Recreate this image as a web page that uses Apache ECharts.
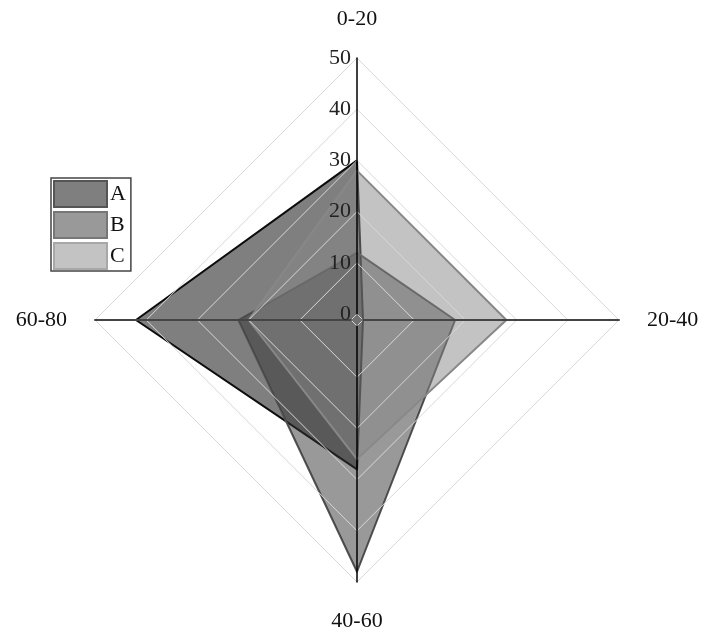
<!DOCTYPE html>
<html>
<head>
<meta charset="utf-8">
<style>
  html, body { margin: 0; padding: 0; background: #fff; }
  #chart { width: 702px; height: 637px; }
</style>
<script src="https://cdn.jsdelivr.net/npm/echarts@6/dist/echarts.min.js"></script>
</head>
<body>
<div id="chart"></div>
<script>
// Age bands, listed clockwise from the top spoke
const indicators = ['0-20', '20-40', '40-60', '60-80'];
const axisMax = 50;

// Series values, one per age band (same order as indicators)
const seriesNames = ['A', 'B', 'C'];
const valuesA = [30, 0, 28, 42];
const valuesB = [12, 18, 48, 22];
const valuesC = [28, 28, 26, 20];

const fillColors = ['rgba(0,0,0,0.5)', 'rgba(51,51,51,0.5)', 'rgba(136,136,136,0.5)'];
const lineColors = ['#111', '#555', '#888'];
const swatchFill = ['#7f7f7f', '#999999', '#c3c3c3'];
const swatchBorder = ['#555', '#777', '#a8a8a8'];

const serif = '"Liberation Serif", "DejaVu Serif", serif';
const chart = echarts.init(document.getElementById('chart'));

// ECharts lays radar spokes out counter-clockwise; walk the bands in
// reverse after the first so they read clockwise on screen.
const spokeOrder = [0].concat(indicators.slice(1).map((_, i) => indicators.length - 1 - i));
const allValues = [valuesA, valuesB, valuesC];

chart.setOption({
  animation: false,
  backgroundColor: '#fff',
  legend: {
    orient: 'vertical',
    left: 51,
    top: 178,
    icon: 'rect',
    itemWidth: 53,
    itemHeight: 26,
    itemGap: 3,
    padding: [2, 5, 1, 2],
    borderColor: '#444',
    borderWidth: 1.5,
    textStyle: { fontFamily: serif, fontSize: 22, color: '#111', padding: [0, 0, 0, -2], lineHeight: 26 },
    data: seriesNames.map((n, i) => ({
      name: n,
      itemStyle: { color: swatchFill[i], borderColor: swatchBorder[i], borderWidth: 2, opacity: 1 }
    }))
  },
  radar: {
    z: 5,
    center: [357, 320],
    radius: [6, 262],
    startAngle: 90,
    shape: 'polygon',
    splitNumber: 5,
    indicator: spokeOrder.map((k, i) => ({
      name: indicators[k],
      min: 0,
      max: axisMax,
      axisLabel: i === 0 ? {
        show: true, fontFamily: serif, fontSize: 22, color: '#222', margin: 6
      } : { show: false },
      axisLine: { lineStyle: { color: (i % 2 === 0) ? '#000' : '#444', width: i % 2 === 0 ? 1.5 : 2 } }
    })),
    axisName: { fontFamily: serif, fontSize: 22, color: '#111' },
    nameGap: 28,
    axisLine: { show: true },
    axisTick: { show: false },
    splitLine: { lineStyle: { color: '#d8d8d8', width: 1 } },
    splitArea: { show: false }
  },
  series: [{
    type: 'radar',
    z: 2,
    symbol: 'none',
    data: seriesNames.map((n, i) => ({
      name: n,
      value: spokeOrder.map(k => allValues[i][k]),
      lineStyle: { color: lineColors[i], width: 2 },
      areaStyle: { color: fillColors[i], opacity: 1 },
      itemStyle: { color: swatchFill[i] }
    }))
  }]
});
</script>
</body>
</html>
